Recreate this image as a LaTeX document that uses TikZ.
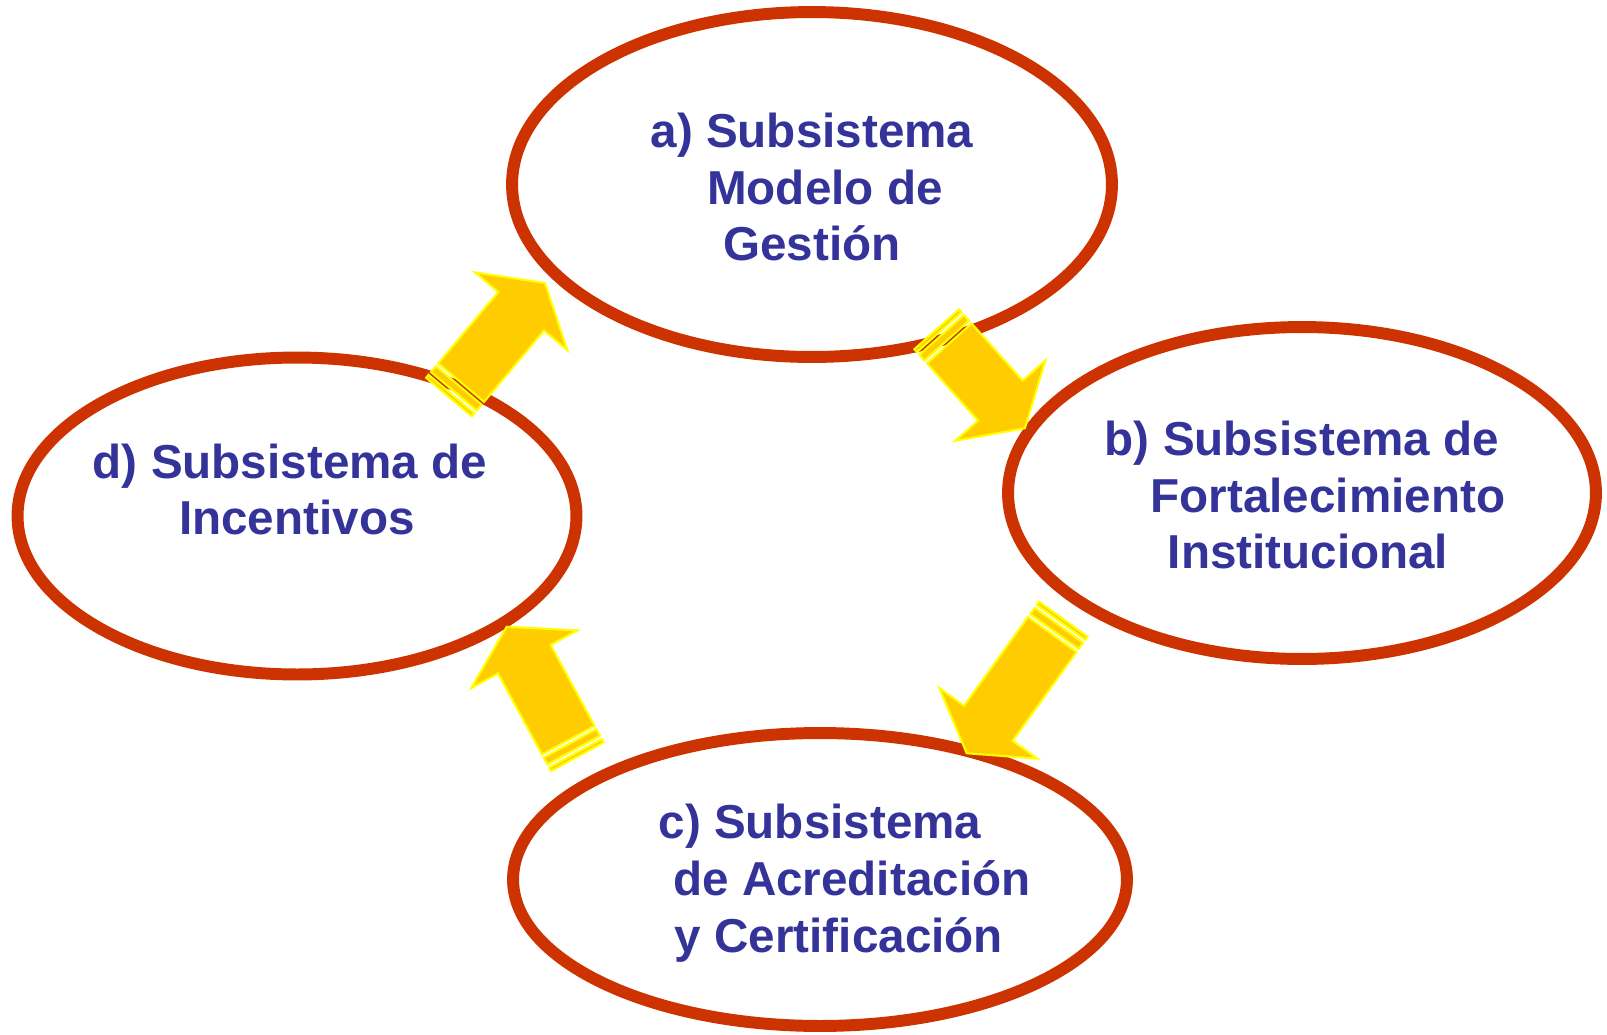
\documentclass[tikz,border=0pt]{standalone}
\usepackage{fontspec}
\setmainfont{Liberation Sans}
\usetikzlibrary{shapes.geometric,calc}
\definecolor{ering}{HTML}{CC3300}
\definecolor{tblue}{HTML}{333399}
\definecolor{afill}{HTML}{FFCC00}
\definecolor{aline}{HTML}{FFFF00}
\tikzset{
  ring/.style={ellipse, draw=ering, line width=6.8pt, inner sep=0pt},
  label/.style={text=tblue, font=\bfseries\fontsize{27.1}{32.3}\selectfont, align=center, inner sep=0pt},
  arrowbody/.style={fill=afill, draw=aline, line width=1.2pt, line join=miter},
}
\newcommand\stripedarrow[2]{%
  \path let \p1=(#1), \p2=(#2) in \pgfextra{%
    \pgfmathsetmacro\myang{atan2(\y2-\y1,\x2-\x1)}%
    \pgfmathsetmacro\mylen{veclen(\x2-\x1,\y2-\y1)}%
    \pgfmathsetmacro\myb{\mylen-21}%
    \xdef\gang{\myang}\xdef\gl{\mylen pt}\xdef\gb{\myb pt}};
  \begin{scope}[shift={(#1)}, rotate=\gang]
    \filldraw[arrowbody] (0pt,-17pt) rectangle (2.15pt,17pt);
    \filldraw[arrowbody] (4.3pt,-17pt) rectangle (8.6pt,17pt);
    \filldraw[arrowbody] (10.75pt,-17pt) -- (\gb,-17pt) -- (\gb,-34.3pt) -- (\gl,0pt)
       -- (\gb,34.3pt) -- (\gb,17pt) -- (10.75pt,17pt) -- cycle;
  \end{scope}}
\begin{document}
\begin{tikzpicture}[x=0.02cm,y=0.02cm]
\useasboundingbox (0,0) rectangle (1607,-1035);
% ellipses
\node[ring, minimum width=12cm, minimum height=6.9cm] (ea) at (812,-184.5) {};
\node[ring, minimum width=11.76cm, minimum height=6.64cm] (eb) at (1302,-493) {};
\node[ring, minimum width=12.28cm, minimum height=5.86cm] (ec) at (820,-879.5) {};
\node[ring, minimum width=11.18cm, minimum height=6.34cm] (ed) at (297,-516) {};
% arrow end points
\coordinate (s1) at (449,-397);   \coordinate (e1) at (545,-283);
\coordinate (s2) at (936.7,-329.3); \coordinate (e2) at (1025,-428.3);
\coordinate (s3) at (1063.3,-619.2); \coordinate (e3) at (966.7,-753.3);
\coordinate (s4) at (577.3,-756.7); \coordinate (e4) at (506.7,-626.7);
\stripedarrow{s1}{e1}
\stripedarrow{s2}{e2}
\stripedarrow{s3}{e3}
\stripedarrow{s4}{e4}
% labels
\node[label] (ta) at (812,-187) {a) Subsistema\\ \hspace*{14.7pt}Modelo de\\ Gestión};
\node[label] (tb) at (1302,-495) {b) Subsistema de\\ \hspace*{29.5pt}Fortalecimiento\\ \hspace*{6.8pt}Institucional};
\node[label] (tc) at (820,-883) {c) Subsistema\\ \hspace*{36.3pt}de Acreditación\\ \hspace*{21.5pt}y Certificación};
\node[label] (td) at (290,-489.5) {d) Subsistema de\\ \hspace*{7.9pt}Incentivos};
\end{tikzpicture}
\end{document}
